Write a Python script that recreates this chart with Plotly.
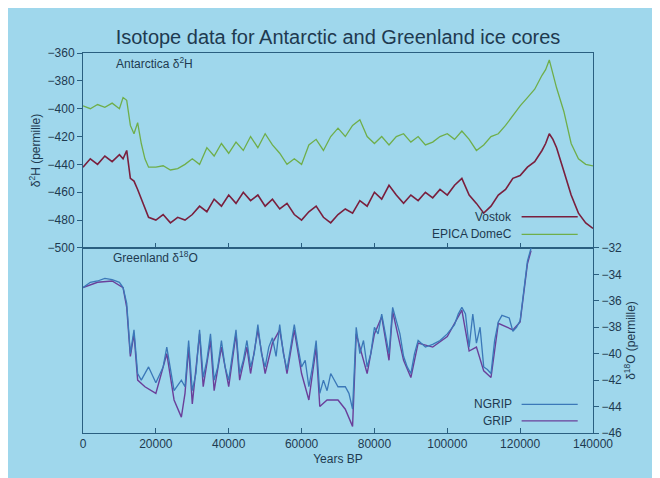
import plotly.graph_objects as go

vostok_x = [0,2000,4000,6000,8000,10000,11000,12000,13000,14000,15000,16000,17000,18000,20000,22000,24000,26000,28000,30000,32000,34000,36000,38000,40000,42000,44000,46000,48000,50000,52000,54000,56000,58000,60000,62000,64000,66000,68000,70000,72000,74000,76000,78000,80000,82000,84000,86000,88000,90000,92000,94000,96000,98000,100000,102000,104000,106000,108000,110000,112000,114000,116000,118000,120000,122000,124000,126000,127000,128000,129000,130000,132000,134000,136000,138000,140000]
vostok_y = [-442,-436,-440,-434,-438,-433,-436,-430,-450,-452,-458,-465,-472,-478,-480,-476,-482,-478,-480,-476,-470,-474,-465,-470,-462,-468,-460,-466,-462,-470,-465,-472,-468,-476,-480,-474,-470,-478,-482,-476,-472,-475,-466,-470,-460,-465,-455,-462,-468,-462,-466,-460,-464,-458,-462,-455,-450,-462,-468,-475,-470,-462,-458,-450,-448,-442,-438,-430,-425,-418,-422,-428,-445,-462,-475,-482,-486]

epica_x = [0,2000,4000,6000,8000,10000,11000,12000,13000,14000,15000,16000,17000,18000,20000,22000,24000,26000,28000,30000,32000,34000,36000,38000,40000,42000,44000,46000,48000,50000,52000,54000,56000,58000,60000,62000,64000,66000,68000,70000,72000,74000,76000,78000,80000,82000,84000,86000,88000,90000,92000,94000,96000,98000,100000,102000,104000,106000,108000,110000,112000,114000,116000,118000,120000,122000,124000,126000,127000,128000,130000,132000,134000,136000,138000,140000]
epica_y = [-398,-400,-397,-399,-396,-400,-392,-394,-412,-418,-410,-425,-436,-442,-442,-441,-444,-443,-440,-436,-440,-428,-434,-425,-432,-424,-430,-420,-428,-418,-426,-432,-440,-436,-440,-426,-422,-430,-420,-414,-420,-412,-408,-420,-425,-420,-426,-420,-418,-424,-420,-426,-424,-420,-418,-422,-416,-422,-430,-426,-420,-418,-412,-405,-398,-392,-386,-376,-372,-365,-385,-402,-425,-436,-440,-441]

ngrip_x = [0,2000,4000,6000,8000,10000,11000,12000,13000,14000,15000,16000,18000,20000,22000,23000,25000,27000,28000,29000,30000,31000,32000,33000,34000,35000,36000,37000,38000,39000,40000,41000,42000,43000,44000,45000,46000,47000,48000,49000,50000,51000,52000,53000,54000,55000,56000,57000,58000,59000,60000,61000,62000,63000,64000,65000,66000,67000,68000,70000,72000,73000,74000,75000,76000,77000,78000,79000,80000,81000,82000,83000,84000,85000,86000,87000,88000,89000,90000,91000,92000,94000,96000,98000,100000,102000,103000,104000,105000,106000,107000,108000,109000,110000,111000,112000,113000,114000,115000,116000,117000,118000,119000,120000,121000,122000,123000]
ngrip_y = [-35.0,-34.6,-34.5,-34.3,-34.4,-34.6,-35.0,-36.2,-40.0,-38.2,-41.5,-42.0,-41.0,-42.2,-41.0,-39.5,-42.8,-42.0,-42.5,-39.0,-42.8,-41.5,-38.2,-41.8,-40.5,-38.5,-42.0,-41.0,-39.0,-41.0,-42.0,-40.0,-38.2,-41.5,-40.5,-39.0,-41.0,-40.0,-37.8,-40.0,-41.0,-39.5,-38.8,-40.2,-37.8,-40.0,-41.2,-39.5,-37.8,-39.5,-41.0,-40.5,-42.5,-41.0,-39.0,-43.0,-42.0,-42.8,-41.5,-42.5,-42.5,-43.0,-44.2,-38.0,-40.0,-39.0,-41.0,-40.0,-38.0,-38.5,-37.0,-38.5,-40.0,-36.5,-37.5,-38.5,-40.2,-41.0,-41.5,-40.0,-39.0,-39.5,-39.3,-39.0,-38.5,-37.8,-37.0,-36.5,-37.0,-39.5,-37.0,-39.2,-38.0,-41.0,-41.2,-41.5,-39.0,-37.6,-37.1,-37.2,-37.3,-38.3,-38.0,-37.5,-35.0,-33.0,-32.0]

grip_x = [0,4000,8000,11000,12000,13000,14000,15000,17000,20000,23000,25000,27000,28000,29000,30000,32000,33000,35000,36000,38000,40000,42000,43000,45000,46000,48000,50000,52000,54000,56000,58000,60000,62000,64000,65000,67000,70000,72000,74000,75000,78000,80000,82000,84000,85000,88000,90000,92000,96000,100000,104000,106000,108000,110000,112000,114000,118000,120000,121000,122000,123000]
grip_y = [-35.0,-34.6,-34.5,-35.0,-36.5,-40.2,-38.5,-42.0,-42.5,-43.0,-40.0,-43.5,-44.8,-43.0,-39.5,-43.8,-38.5,-42.5,-39.0,-42.8,-39.5,-42.5,-38.5,-42.0,-39.5,-41.5,-38.2,-41.5,-39.2,-38.2,-41.5,-38.2,-41.5,-43.5,-39.5,-44.0,-43.5,-43.5,-44.2,-45.5,-38.5,-41.5,-38.5,-37.2,-40.5,-36.8,-40.5,-41.8,-39.2,-39.5,-38.7,-36.7,-39.8,-39.5,-41.3,-41.8,-37.7,-38.2,-37.6,-35.2,-33.2,-32.2]

fig = go.Figure()
fig.add_trace(go.Scatter(x=epica_x, y=epica_y, mode="lines", line=dict(color="#6fae4a", width=1.3), xaxis="x", yaxis="y"))
fig.add_trace(go.Scatter(x=vostok_x, y=vostok_y, mode="lines", line=dict(color="#7a1f3d", width=1.6), xaxis="x", yaxis="y"))
fig.add_trace(go.Scatter(x=grip_x, y=grip_y, mode="lines", line=dict(color="#6a3f9a", width=1.4), xaxis="x2", yaxis="y2"))
fig.add_trace(go.Scatter(x=ngrip_x, y=ngrip_y, mode="lines", line=dict(color="#3b78b8", width=1.3), xaxis="x2", yaxis="y2"))

ax = "#2a5f80"
tf = dict(family="Liberation Sans", size=12, color="#1e3a50")
common_x = dict(range=[0,140000], dtick=20000, tickformat="d", showgrid=False, zeroline=False, linecolor=ax, mirror=True, showline=True, ticks="inside", tickcolor=ax, ticklen=5, tickfont=tf)
fig.update_layout(
    width=660, height=478, showlegend=False,
    paper_bgcolor="#9fd7ec", plot_bgcolor="#9fd7ec",
    margin=dict(l=75, r=75, t=45, b=53),
    xaxis=dict(common_x, domain=[0,1], anchor="y", showticklabels=False),
    yaxis=dict(range=[-500,-360], dtick=20, domain=[0.487,1], anchor="x", showgrid=False, zeroline=False, linecolor=ax, mirror=True, showline=True, ticks="outside", tickcolor=ax, tickfont=tf, title=dict(text="δ<sup>2</sup>H (permille)", font=dict(family="Liberation Sans", size=12, color="#1e3a50"), standoff=4)),
    xaxis2=dict(common_x, domain=[0,1], anchor="y2", title=dict(text="Years BP", font=tf, standoff=4)),
    yaxis2=dict(range=[-46,-32], dtick=2, domain=[0,0.487], anchor="x2", side="right", showgrid=False, zeroline=False, linecolor=ax, mirror=True, showline=True, ticks="outside", tickcolor=ax, tickfont=tf, title=dict(text="δ<sup>18</sup>O (permille)", font=dict(family="Liberation Sans", size=12, color="#1e3a50"), standoff=4)),
    title=dict(text="Isotope data for Antarctic and Greenland ice cores", x=0.5, xanchor="center", y=0.955, font=dict(family="Liberation Sans", size=20, color="#1e3a50")),
)
lf = dict(family="Liberation Sans", size=12, color="#1e3a50")
anns = [
    ("Antarctica δ<sup>2</sup>H", 0.06, 0.95, "x domain", "y domain", "left"),
    ("Vostok", 0.845, 0.16, "x domain", "y domain", "right"),
    ("EPICA DomeC", 0.845, 0.07, "x domain", "y domain", "right"),
    ("Greenland δ<sup>18</sup>O", 0.055, 0.95, "x2 domain", "y2 domain", "left"),
    ("NGRIP", 0.845, 0.155, "x2 domain", "y2 domain", "right"),
    ("GRIP", 0.845, 0.065, "x2 domain", "y2 domain", "right"),
]
for t, x, y, xr, yr, al in anns:
    fig.add_annotation(text=t, x=x, y=y, xref=xr, yref=yr, xanchor=al, yanchor="middle", showarrow=False, font=lf)
for col, y, xr, yr in [("#7a1f3d",0.16,"x domain","y domain"),("#6fae4a",0.07,"x domain","y domain"),("#3b78b8",0.155,"x2 domain","y2 domain"),("#6a3f9a",0.065,"x2 domain","y2 domain")]:
    fig.add_shape(type="line", x0=0.86, x1=0.97, y0=y, y1=y, xref=xr, yref=yr, line=dict(color=col, width=1.3))
fig.write_html("out.html")
